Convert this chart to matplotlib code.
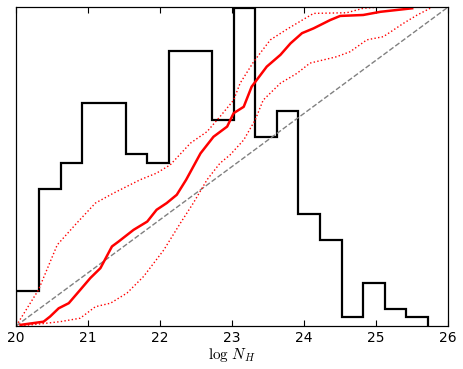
import numpy as np
import matplotlib.pyplot as plt
import matplotlib

matplotlib.rcParams['mathtext.fontset'] = 'cm'

# istogramma log N_H
edges = [20.0, 20.32, 20.62, 20.92, 21.22, 21.52, 21.82, 22.12, 22.42, 22.72,
         23.02, 23.32, 23.62, 23.92, 24.22, 24.52, 24.82, 25.12, 25.42, 25.72]
counts = [4, 16, 19, 26, 26, 20, 19, 32, 32, 24, 37, 22, 25, 13, 10, 1, 5, 2, 1]

# distribuzione cumulativa
cdf_x = [20.06, 20.38, 20.47, 20.59, 20.73, 20.89, 21.03, 21.17, 21.33, 21.42, 21.63,
         21.82, 21.95, 22.09, 22.23, 22.36, 22.56, 22.74, 22.93, 23.02, 23.16, 23.27,
         23.34, 23.48, 23.67, 23.81, 23.97, 24.13, 24.36, 24.50, 24.82, 25.06, 25.50]
cdf_y = [0.003, 0.013, 0.029, 0.055, 0.071, 0.113, 0.150, 0.181, 0.249, 0.264, 0.301,
         0.327, 0.364, 0.385, 0.411, 0.458, 0.541, 0.593, 0.625, 0.667, 0.687, 0.750,
         0.771, 0.813, 0.850, 0.886, 0.918, 0.933, 0.959, 0.972, 0.975, 0.985, 0.996]

up_x = [20.0, 20.31, 20.57, 20.84, 21.10, 21.35, 21.72, 21.95, 22.14, 22.42, 22.65,
        22.83, 23.02, 23.11, 23.30, 23.53, 23.78, 24.13, 24.59, 24.82, 25.06]
up_y = [0.0, 0.113, 0.254, 0.322, 0.385, 0.416, 0.458, 0.479, 0.505, 0.573, 0.609,
        0.656, 0.708, 0.761, 0.829, 0.897, 0.933, 0.980, 0.982, 0.996, 1.0]

lo_x = [20.06, 20.33, 20.61, 20.89, 21.10, 21.31, 21.54, 21.77, 22.05, 22.28, 22.46,
        22.65, 22.83, 22.97, 23.16, 23.32, 23.43, 23.67, 23.90, 24.08, 24.45, 24.64,
        24.87, 25.10, 25.38, 25.57, 25.75]
lo_y = [0.0, 0.006, 0.013, 0.024, 0.060, 0.071, 0.103, 0.155, 0.238, 0.322, 0.385,
        0.458, 0.510, 0.536, 0.583, 0.646, 0.708, 0.761, 0.792, 0.824, 0.844, 0.860,
        0.897, 0.907, 0.949, 0.975, 0.996]

fig = plt.figure(figsize=(4.63, 3.69), dpi=100)
ax = fig.add_axes([0.035, 0.117, 0.933, 0.864])
ax.stairs(counts, edges, color='k', linewidth=1.6)
ax.set_xlim(20, 26)
ax.set_ylim(0, 37.15)
ax.set_yticks([])
ax.tick_params(axis='x', direction='in', top=True, length=4, labelsize=10)
ax.set_xlabel(r'$\log\,N_H$', fontsize=11, labelpad=1)

ax2 = ax.twinx()
ax2.plot([20, 26], [0, 1], '--', color='gray', linewidth=1)
ax2.plot(up_x, up_y, ':', color='r', linewidth=1)
ax2.plot(lo_x, lo_y, ':', color='r', linewidth=1)
ax2.plot(cdf_x, cdf_y, 'r', linewidth=1.8)
ax2.set_ylim(0, 1)
ax2.set_yticks([])

fig.savefig('out.png', dpi=100)
